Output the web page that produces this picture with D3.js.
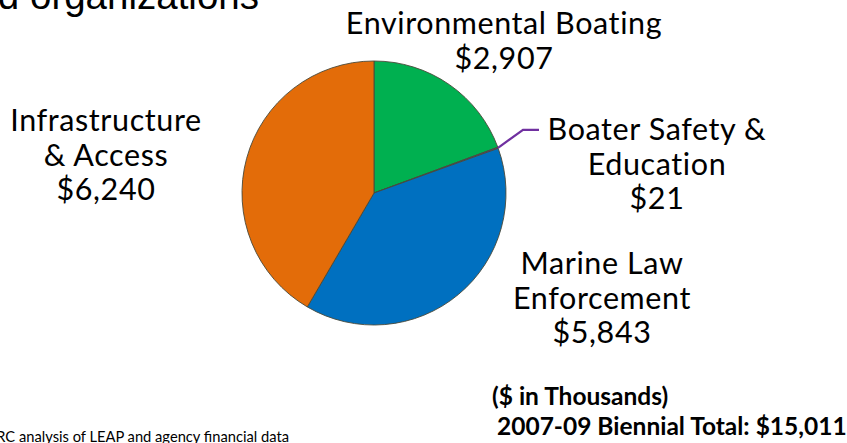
<!DOCTYPE html>
<html>
<head>
<meta charset="utf-8">
<script src="https://cdn.jsdelivr.net/npm/d3@7"></script>
<style>
  html, body { margin: 0; padding: 0; background: #ffffff; overflow: hidden; }
  svg { display: block; }
</style>
</head>
<body>
<svg id="chart" width="847" height="443"></svg>
<script>
// ---- data ----
const categories = ["Environmental Boating", "Boater Safety & Education", "Marine Law Enforcement", "Infrastructure & Access"];
const values = [2907, 21, 5843, 6240];
const colors = ["#00B050", "#7030A0", "#0070C0", "#E36C09"];
const labelLines = [
  ["Environmental Boating"],
  ["Boater Safety &", "Education"],
  ["Marine Law", "Enforcement"],
  ["Infrastructure", "& Access"]
];
const titleText = "Boating program funds distributed to state agencies and organizations";
const sourceText = "Source: JLARC analysis of LEAP and agency financial data";
const unitText = "($ in Thousands)";
const totalPrefix = "2007-09 Biennial Total: ";

// ---- layout (not data) ----
const W = 847, H = 443;
const cx = 374, cy = 193, R = 132;
const labelLayout = [
  { x: 504, y: 34 },
  { x: 657, y: 140 },
  { x: 602, y: 274 },
  { x: 106, y: 131 }
];
const lineH = 34.5;
const labelFont = "Lato, 'Open Sans', sans-serif";

const fmt = d3.format("$,");
const svg = d3.select("#chart");

// title (mostly off-canvas, only tail visible)
svg.append("text")
  .attr("x", 259).attr("y", 9)
  .attr("text-anchor", "end")
  .attr("font-family", "'Liberation Sans', Arial, sans-serif")
  .attr("font-size", 38.5)
  .attr("fill", "#000")
  .text(titleText);

// pie
const pie = d3.pie().sort(null).value(d => d).startAngle(0).endAngle(2 * Math.PI);
const arcs = pie(values);
const arc = d3.arc().innerRadius(0).outerRadius(R);

const g = svg.append("g").attr("transform", `translate(${cx},${cy})`);
g.selectAll("path.slice")
  .data(arcs)
  .enter().append("path")
  .attr("class", "slice")
  .attr("d", arc)
  .attr("fill", (d, i) => colors[i])
  .attr("stroke", "#4a4a3a")
  .attr("stroke-width", 0.9)
  .attr("stroke-linejoin", "round");

// leader line for the tiny slice
const small = arcs[1];
const midA = (small.startAngle + small.endAngle) / 2;
const p0 = [cx + R * Math.sin(midA), cy - R * Math.cos(midA)];
const elbow = [p0[0] + 25, p0[1] - 18];
const p2 = [elbow[0] + 16, elbow[1]];
svg.append("path")
  .attr("d", d3.line()([p0, elbow, p2]))
  .attr("fill", "none")
  .attr("stroke", colors[1])
  .attr("stroke-width", 2.2);

// labels
categories.forEach((c, i) => {
  const lines = labelLines[i].concat([fmt(values[i])]);
  const t = svg.append("text")
    .attr("text-anchor", "middle")
    .attr("font-family", labelFont)
    .attr("font-size", 30.5)
    .attr("letter-spacing", 0.6)
    .attr("fill", "#000");
  lines.forEach((ln, j) => {
    t.append("tspan")
      .attr("x", labelLayout[i].x)
      .attr("y", labelLayout[i].y + j * lineH)
      .text(ln);
  });
});

// units and total
svg.append("text")
  .attr("x", 492).attr("y", 405)
  .attr("font-family", labelFont)
  .attr("font-weight", "bold")
  .attr("font-size", 24.5)
  .attr("fill", "#000")
  .text(unitText);

svg.append("text")
  .attr("x", 497).attr("y", 435)
  .attr("font-family", labelFont)
  .attr("font-weight", "bold")
  .attr("font-size", 24.5)
  .attr("fill", "#000")
  .text(totalPrefix + fmt(d3.sum(values)));

// source note (start is off-canvas)
svg.append("text")
  .attr("x", 289).attr("y", 442)
  .attr("text-anchor", "end")
  .attr("font-family", labelFont)
  .attr("font-size", 14.7)
  .attr("fill", "#000")
  .text(sourceText);
</script>
</body>
</html>
